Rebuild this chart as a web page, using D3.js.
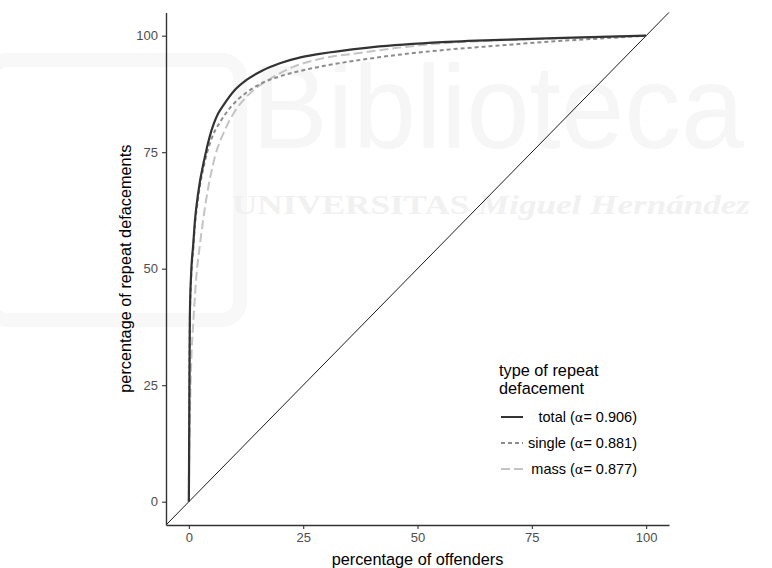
<!DOCTYPE html>
<html>
<head>
<meta charset="utf-8">
<script src="https://cdn.jsdelivr.net/npm/d3@7"></script>
<style>
  html, body { margin: 0; padding: 0; background: #ffffff; }
  svg { display: block; font-family: "Liberation Sans", Arial, sans-serif; }
</style>
</head>
<body>
<svg id="chart" width="772" height="568"></svg>
<script>
// ---- data ----
const xTicks = [0, 25, 50, 75, 100];
const yTicks = [0, 25, 50, 75, 100];

const totalCurve = [[0,0],[0.05,10],[0.12,25],[0.22,40],[0.5,49],[0.94,55],[1.3,60],[2,66],[3.5,74],[4.6,78.5],[6.4,83.3],[7.5,85],[10,88.3],[12.6,90.5],[16,92.5],[19.9,94.1],[24.2,95.3],[28.6,96.1],[38.8,97.4],[53.3,98.5],[67.9,99.1],[80,99.5],[100,100]];
const singleCurve = [[0,0],[0.05,10],[0.12,25],[0.22,39],[0.5,48],[0.94,54],[1.3,59],[2,65],[3.5,73],[5,78],[7.1,81.9],[9,84.5],[12.6,87.8],[15.5,89.6],[20,91.3],[24.2,92.4],[30,93.6],[38.8,95.0],[53.3,96.7],[67.9,97.9],[80,98.8],[90,99.4],[100,100]];
const massCurve = [[0,0],[0.1,10],[0.3,22],[0.6,32],[0.94,38],[1.7,49],[2.4,55],[3.9,65.5],[5.7,74],[7.9,79.8],[10,83.7],[12.6,86.9],[15,89],[17.7,90.7],[22.8,93.3],[28.6,95.0],[37.3,96.3],[53.3,98.2],[67.9,99.0],[80,99.4],[100,100]];

const seriesNames = ["total", "single", "mass"];
const seriesAlpha = ["0.906", "0.881", "0.877"];
const seriesData = [totalCurve, singleCurve, massCurve];
const seriesColor = ["#333333", "#8c8c8c", "#c4c4c4"];
const seriesDash = [null, "4,3", "9,4"];

const xTitle = "percentage of offenders";
const yTitle = "percentage of repeat defacements";
const legendTitle = ["type of repeat", "defacement"];

// ---- drawing ----
const svg = d3.select("#chart");

// faint background watermark
const wm = svg.append("g").attr("pointer-events", "none");
wm.append("rect").attr("x", -10).attr("y", 60).attr("width", 250).attr("height", 260)
  .attr("rx", 18).attr("fill", "none").attr("stroke", "#f8f8f8").attr("stroke-width", 14);
wm.append("text").attr("x", 252).attr("y", 148)
  .attr("font-size", 118).attr("fill", "#f6f6f6")
  .attr("textLength", 492).attr("lengthAdjust", "spacingAndGlyphs")
  .text("Biblioteca");
wm.append("text").attr("x", 232).attr("y", 214)
  .attr("font-size", 27).attr("font-family", "'Liberation Serif', serif").attr("font-weight", "bold")
  .attr("fill", "#f1f1f1")
  .attr("textLength", 518).attr("lengthAdjust", "spacingAndGlyphs")
  .html('UNIVERSITAS <tspan font-style="italic">Miguel Hernández</tspan>');

const x = d3.scaleLinear().domain([-5, 105]).range([166, 669]);
const y = d3.scaleLinear().domain([-5, 105]).range([525, 12.4]);

// diagonal (line of equality) across full panel
svg.append("line")
  .attr("x1", x(-5)).attr("y1", y(-5))
  .attr("x2", x(105)).attr("y2", y(105))
  .attr("stroke", "#000").attr("stroke-width", 0.9);

const line = d3.line().x(d => x(d[0])).y(d => y(d[1])).curve(d3.curveMonotoneX);

// draw in order mass, single, total (total on top)
[2, 1, 0].forEach(i => {
  svg.append("path")
    .datum(seriesData[i])
    .attr("d", line)
    .attr("fill", "none")
    .attr("stroke", seriesColor[i])
    .attr("stroke-width", i === 0 ? 2.2 : 2)
    .attr("stroke-dasharray", seriesDash[i]);
});

// axes
const xAxis = svg.append("g").attr("transform", `translate(0,${y(-5)})`)
  .call(d3.axisBottom(x).tickValues(xTicks).tickSize(4).tickPadding(4).tickSizeOuter(0));
const yAxis = svg.append("g").attr("transform", `translate(${x(-5)},0)`)
  .call(d3.axisLeft(y).tickValues(yTicks).tickSize(4).tickPadding(4).tickSizeOuter(0));
[xAxis, yAxis].forEach(a => {
  a.select(".domain").attr("stroke", "#333333").attr("stroke-width", 1.4);
  a.selectAll(".tick line").attr("stroke", "#333333").attr("stroke-width", 1.1);
  a.selectAll(".tick text").attr("fill", "#4d4d4d").attr("font-size", 13)
    .attr("font-family", "'Liberation Sans', Arial, sans-serif");
});

// axis titles
svg.append("text").attr("x", (x(-5) + x(105)) / 2).attr("y", 565)
  .attr("text-anchor", "middle").attr("font-size", 16.3).attr("fill", "#000")
  .text(xTitle);
svg.append("text")
  .attr("transform", `translate(131,${(y(-5) + y(105)) / 2}) rotate(-90)`)
  .attr("text-anchor", "middle").attr("font-size", 16.3).attr("fill", "#000")
  .text(yTitle);

// legend
const lg = svg.append("g");
legendTitle.forEach((t, k) => {
  lg.append("text").attr("x", 499).attr("y", 376 + k * 18)
    .attr("font-size", 16.3).attr("fill", "#000").text(t);
});
const rowY = [417, 443, 469];
seriesNames.forEach((n, i) => {
  lg.append("line")
    .attr("x1", 501).attr("x2", 523).attr("y1", rowY[i]).attr("y2", rowY[i])
    .attr("stroke", seriesColor[i]).attr("stroke-width", 2)
    .attr("stroke-dasharray", seriesDash[i]);
  const t = lg.append("text").attr("x", 637).attr("y", rowY[i] + 5)
    .attr("text-anchor", "end").attr("font-size", 14.5).attr("fill", "#000");
  t.append("tspan").text(n + " (");
  t.append("tspan").attr("font-family", "'DejaVu Sans', sans-serif").attr("font-size", 13).text("α");
  t.append("tspan").text("= " + seriesAlpha[i] + ")");
});
</script>
</body>
</html>
